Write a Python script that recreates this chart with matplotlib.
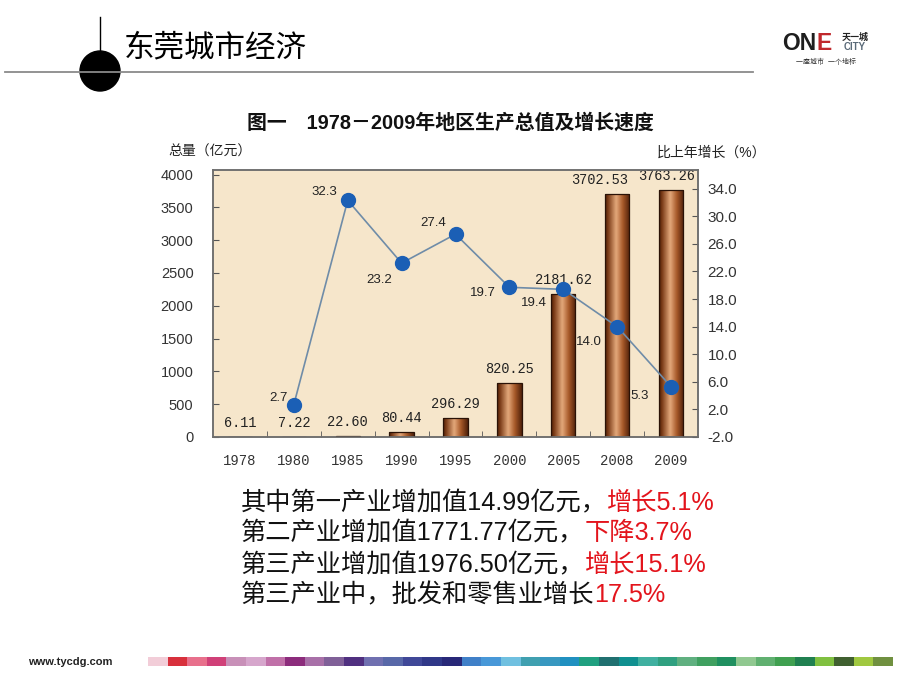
import numpy as np
import matplotlib
matplotlib.use('Agg')
import matplotlib.pyplot as plt
from matplotlib.colors import LinearSegmentedColormap
from matplotlib.patches import Ellipse, Rectangle
from matplotlib.lines import Line2D

# ---------------- data ----------------
years = ['1978', '1980', '1985', '1990', '1995', '2000', '2005', '2008', '2009']
gdp = [6.11, 7.22, 22.60, 80.44, 296.29, 820.25, 2181.62, 3702.53, 3763.26]
growth_years = ['1980', '1985', '1990', '1995', '2000', '2005', '2008', '2009']
growth = [2.7, 32.3, 23.2, 27.4, 19.7, 19.4, 14.0, 5.3]
left_ticks = [0, 500, 1000, 1500, 2000, 2500, 3000, 3500, 4000]
right_ticks = [-2.0, 2.0, 6.0, 10.0, 14.0, 18.0, 22.0, 26.0, 30.0, 34.0]

chart_title = '图一　1978－2009年地区生产总值及增长速度'
left_title = '总量（亿元）'
right_title = '比上年增长（%）'
page_title = '东莞城市经济'
text_lines = [
    [('其中第一产业增加值14.99亿元，', 'k'), ('增长5.1%', 'r')],
    [('第二产业增加值1771.77亿元，', 'k'), ('下降3.7%', 'r')],
    [('第三产业增加值1976.50亿元，', 'k'), ('增长15.1%', 'r')],
    [('第三产业中，批发和零售业增长', 'k'), ('17.5%', 'r')],
]
# label offsets (points) for annotations
growth_offsets = [(-11, 5), (-17, 6), (-16, -12), (-16, 8), (-19, -4), (-21, -10), (-20, -11), (-23, -7)]
gdp_label_dx = [0, 0, 0, 0, 0, 0, 0, -13, -3]

strip_colors = ['#f2cdd8', '#d8303c', '#e8708c', '#d04078', '#c890b8', '#d6a6cc', '#c070a8', '#8c2c7c',
                '#a870a8', '#806098', '#503080', '#7070b0', '#5868a8', '#404898', '#303888', '#282878',
                '#4080c8', '#4898d8', '#70c0e0', '#40a0b0', '#3898c0', '#2090c0', '#20a080', '#207070',
                '#109090', '#40b0a0', '#30a080', '#60b080', '#40a060', '#209060', '#90c890', '#60b070',
                '#40a050', '#208050', '#80c040', '#406030', '#a0c840', '#709040']

W, H = 920, 690
CJK = ['Liberation Sans', 'Noto Sans CJK SC']
RED = '#e3141c'

def fx(p):
    return p / W

def fy(p):
    return 1 - p / H

fig = plt.figure(figsize=(W / 100, H / 100), dpi=100)
fig.patch.set_facecolor('white')

# ---------------- chart ----------------
ax = fig.add_axes([fx(213), fy(437), (698 - 213) / W, (437 - 170) / H])
ax.set_facecolor('#f6e6cb')
x = np.arange(len(years))
bars = ax.bar(x, gdp, width=0.45, color='none', edgecolor='#2a1206', lw=0.9, zorder=3)
cmap = LinearSegmentedColormap.from_list('brown', [(0, '#4a1e08'), (0.12, '#7a3a16'), (0.45, '#e4a97b'),
                                                   (0.72, '#a65828'), (1, '#4e200a')])
grad = np.linspace(0, 1, 256).reshape(1, -1)
for b in bars:
    x0, y0, w, h = b.get_x(), b.get_y(), b.get_width(), b.get_height()
    im = ax.imshow(grad, extent=[x0, x0 + w, y0, y0 + h], aspect='auto', cmap=cmap, zorder=2.5,
                   interpolation='bicubic')
    im.set_clip_path(b)
for xi, v, dx in zip(x, gdp, gdp_label_dx):
    ax.annotate('%.2f' % v, (xi, v), xytext=(dx, 5), textcoords='offset points', ha='center', va='bottom',
                family='Liberation Mono', fontsize=9.8, color='#222222', zorder=6)

ax.set_xlim(-0.5, len(years) - 0.5)
ax.set_ylim(0, 4070)
ax.set_xticks(x)
ax.set_xticklabels(years, family='Liberation Mono', fontsize=10, color='#333333')
ax.set_xticks(x[:-1] + 0.5, minor=True)
ax.tick_params(axis='x', which='major', length=0, pad=12)
ax.tick_params(axis='x', which='minor', direction='in', length=4, color='#555555')
ax.set_yticks(left_ticks)
ax.set_yticklabels([str(t) for t in left_ticks], family='Liberation Sans', fontsize=10.5, color='#333333')
ax.tick_params(axis='y', direction='in', length=4, pad=14, color='#555555')
for s in ax.spines.values():
    s.set_color('#6e6e6e')
    s.set_linewidth(1.1)

ax2 = ax.twinx()
ax2.set_ylim(-2, 36.7)
gx = [years.index(g) for g in growth_years]
ax2.plot(gx, growth, color='#6f8ca8', lw=1.2, zorder=5)
ax2.plot(gx, growth, ls='none', marker='o', ms=10, mfc='#1b5fb5', mec='#1b5fb5', zorder=6)
for xi, v, (dx, dy) in zip(gx, growth, growth_offsets):
    ax2.annotate('%.1f' % v, (xi, v), xytext=(dx, dy), textcoords='offset points', ha='center', va='center',
                 family='Liberation Sans', fontsize=9.5, color='#222222', zorder=7)
ax2.set_yticks(right_ticks)
ax2.set_yticklabels(['%.1f' % t for t in right_ticks], family='Liberation Sans', fontsize=11, color='#333333')
ax2.tick_params(axis='y', direction='in', length=4, pad=7, color='#555555')
for s in ax2.spines.values():
    s.set_color('#6e6e6e')
    s.set_linewidth(1.1)

fig.text(fx(450), fy(123), chart_title, ha='center', va='center', family=CJK, fontsize=14.3,
         fontweight='bold', color='#111111')
fig.text(fx(168), fy(152), left_title, ha='left', va='center', family=CJK, fontsize=10, color='#222222')
fig.text(fx(766), fy(153), right_title, ha='right', va='center', family=CJK, fontsize=10, color='#222222')

# ---------------- header ----------------
fig.add_artist(Line2D([fx(5), fx(753)], [fy(72), fy(72)], color='#8a8a8a', lw=1.3))
fig.add_artist(Line2D([fx(100), fx(100)], [fy(17), fy(56)], color='black', lw=1.0))
fig.add_artist(Ellipse((fx(100), fy(71)), 40 / W, 40 / H, color='black'))
fig.text(fx(124), fy(48), page_title, ha='left', va='center', family=CJK, fontsize=22, fontweight='medium',
         color='black')

# logo
r = fig.canvas.get_renderer()
t1 = fig.text(fx(782), fy(44), 'ON', ha='left', va='center', family='Liberation Sans', fontsize=16.5,
              fontweight='bold', color='#1e1e1e')
wpx = t1.get_window_extent(r).width
fig.text(fx(782 + wpx), fy(44), 'E', ha='left', va='center', family='Liberation Sans', fontsize=16.5,
         fontweight='bold', color='#c0282c')
fig.text(fx(855), fy(37), '天一城', ha='center', va='center', family=CJK, fontsize=6.5, fontweight='bold',
         color='#222222')
fig.text(fx(855), fy(47), 'CITY', ha='center', va='center', family='Liberation Sans', fontsize=7,
         fontweight='bold', color='#5a6a78')
fig.text(fx(826), fy(62), '一座城市  一个地标', ha='center', va='center', family=CJK, fontsize=5,
         color='#333333')

# ---------------- text lines ----------------
line_y = [503, 533, 565, 595]
for yy, parts in zip(line_y, text_lines):
    xx = 241
    for s, c in parts:
        t = fig.text(fx(xx), fy(yy), s, ha='left', va='center', family=CJK, fontsize=18.2,
                     color=(RED if c == 'r' else '#111111'))
        xx += t.get_window_extent(r).width

# ---------------- footer ----------------
fig.text(fx(28), fy(662), 'www.tycdg.com', ha='left', va='center', family='Liberation Sans', fontsize=8,
         fontweight='bold', color='#222222')
n = len(strip_colors)
x0s, x1s = 148, 893
bw = (x1s - x0s) / n
for i, c in enumerate(strip_colors):
    fig.add_artist(Rectangle((fx(x0s + i * bw), fy(666)), bw / W, 9 / H, color=c, lw=0))

fig.savefig('out.png', dpi=100, facecolor='white')
